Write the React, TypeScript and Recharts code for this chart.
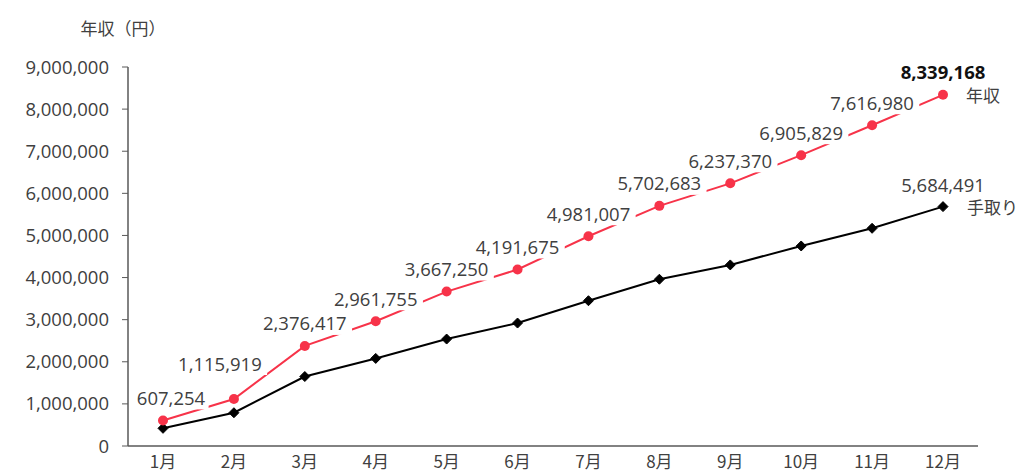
import React from "react";
import { LineChart, Line, XAxis, YAxis, LabelList, Label } from "recharts";

const months = ["1月", "2月", "3月", "4月", "5月", "6月", "7月", "8月", "9月", "10月", "11月", "12月"];
const annualIncome = [607254, 1115919, 2376417, 2961755, 3667250, 4191675, 4981007, 5702683, 6237370, 6905829, 7616980, 8339168];
const takeHome = [420000, 790000, 1650000, 2080000, 2540000, 2920000, 3450000, 3960000, 4300000, 4750000, 5170000, 5684491];
const yTicks = [0, 1000000, 2000000, 3000000, 4000000, 5000000, 6000000, 7000000, 8000000, 9000000];
const seriesNames = { annual: "年収", net: "手取り" };

const data = months.map((m, i) => ({ month: m, annual: annualIncome[i], net: takeHome[i] }));

// numbers in the original have wide digits, Japanese text is a bit smaller
const NUM_FONT = '"Open Sans", "Noto Sans CJK JP", sans-serif';
const JP_FONT = '"Noto Sans CJK JP", sans-serif';
const NUM_SIZE = 18.5;
const JP_SIZE = 17;
const TEXT = "#404040";
const RED = "#f73349";
const AXIS = "#595959";

const fmt = (v: number) => v.toLocaleString("en-US");

// a few labels are nudged in the original to keep clear of the line
const labelNudge: Record<number, { dx: number; dy: number }> = {
  0: { dx: 8, dy: 0 },
  1: { dx: -14, dy: -13 },
};

function Diamond(props: any) {
  const { cx, cy, index } = props;
  if (cx == null || cy == null) return null;
  const r = 5;
  return (
    <path
      key={`d-${index}`}
      d={`M${cx},${cy - r}L${cx + r},${cy}L${cx},${cy + r}L${cx - r},${cy}Z`}
      fill="#000"
      stroke="#000"
    />
  );
}

function AnnualLabel(props: any) {
  const { x, y, value, index } = props;
  const last = index === annualIncome.length - 1;
  const nudge = labelNudge[index] || { dx: 0, dy: 0 };
  const text = fmt(value);
  const cx = x + nudge.dx;
  const cy = y - 23 + nudge.dy;
  const w = text.length * 9.6 + 8;
  return (
    <g>
      <rect x={cx - w / 2} y={cy - 12} width={w} height={24} fill="#fff" />
      <text
        x={cx}
        y={cy}
        textAnchor="middle"
        dominantBaseline="central"
        fontFamily={NUM_FONT}
        fontSize={NUM_SIZE}
        fontWeight={last ? 700 : 400}
        fill={last ? "#111" : TEXT}
      >
        {text}
      </text>
      {last && (
        <text x={x + 23} y={y} dominantBaseline="central" fontFamily={JP_FONT} fontSize={JP_SIZE} fill={TEXT}>
          {seriesNames.annual}
        </text>
      )}
    </g>
  );
}

function NetLabel(props: any) {
  const { x, y, value, index } = props;
  if (index !== takeHome.length - 1) return null;
  return (
    <g>
      <text x={x} y={y - 22} textAnchor="middle" dominantBaseline="central" fontFamily={NUM_FONT} fontSize={NUM_SIZE} fill={TEXT}>
        {fmt(value)}
      </text>
      <text x={x + 24} y={y} dominantBaseline="central" fontFamily={JP_FONT} fontSize={JP_SIZE} fill={TEXT}>
        {seriesNames.net}
      </text>
    </g>
  );
}

export default function App() {
  return (
    <div style={{ position: "absolute", left: 0, top: 0, width: 1024, height: 475, background: "#fff" }}>
      <LineChart width={1024} height={475} data={data} margin={{ top: 67, right: 46, bottom: 0, left: 0 }}>
        <XAxis
          dataKey="month"
          height={29}
          padding={{ left: 35, right: 35 }}
          tickLine={false}
          axisLine={{ stroke: AXIS, strokeWidth: 1.5 }}
          tick={{ fontFamily: JP_FONT, fontSize: JP_SIZE, fill: TEXT }}
          tickMargin={4}
          interval={0}
        />
        <YAxis
          width={128}
          domain={[0, 9000000]}
          ticks={yTicks}
          tickFormatter={fmt}
          tickSize={6}
          tickMargin={13}
          tickLine={{ stroke: AXIS }}
          axisLine={{ stroke: AXIS, strokeWidth: 1.5 }}
          tick={{ fontFamily: NUM_FONT, fontSize: NUM_SIZE, fill: TEXT }}
        >
          <Label
            content={() => (
              <text x={123} y={27} textAnchor="middle" dominantBaseline="central" fontFamily={JP_FONT} fontSize={JP_SIZE} fill={TEXT}>
                年収（円）
              </text>
            )}
          />
        </YAxis>
        <Line
          dataKey="net"
          stroke="#000"
          strokeWidth={2}
          dot={<Diamond />}
          activeDot={false}
          isAnimationActive={false}
        >
          <LabelList dataKey="net" content={<NetLabel />} />
        </Line>
        <Line
          dataKey="annual"
          stroke={RED}
          strokeWidth={2}
          dot={{ r: 5, fill: RED, stroke: RED, strokeWidth: 0 }}
          activeDot={false}
          isAnimationActive={false}
        >
          <LabelList dataKey="annual" content={<AnnualLabel />} />
        </Line>
      </LineChart>
    </div>
  );
}
